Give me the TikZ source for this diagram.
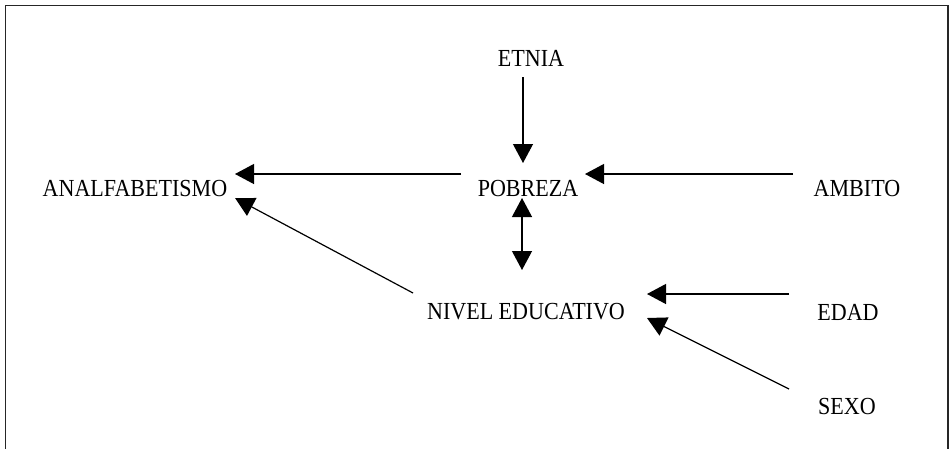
\documentclass[tikz,border=0pt]{standalone}
\usepackage{fontspec}
\setmainfont{Liberation Serif}[FakeStretch=0.9]
\usetikzlibrary{arrows.meta,calc}
\begin{document}
\begin{tikzpicture}[x=1pt,y=-1pt,
  lbl/.style={inner sep=0pt,anchor=base,font=\fontsize{24.5}{28}\selectfont},
  conn/.style={line width=1.2pt,-{Triangle[length=19pt,width=20pt]}},
  bothconn/.style={line width=1.2pt,{Triangle[length=19pt,width=20pt]}-{Triangle[length=19pt,width=20pt]}}]
\useasboundingbox (0,0) rectangle (950,448);
% frame (open at the lower edge of the page)
\draw[line width=1.8pt,black!85] (5.5,450) -- (5.5,5.5) -- (948,5.5) -- (948,450);
% variables
\node[lbl] (etnia)  at (531,66)  {ETNIA};
\node[lbl] (pob)    at (528,196) {POBREZA};
\node[lbl] (analf)  at (135,196) {ANALFABETISMO};
\node[lbl] (ambito) at (857,196) {AMBITO};
\node[lbl] (nivel)  at (526,319) {NIVEL EDUCATIVO};
\node[lbl] (edad)   at (848,320) {EDAD};
\node[lbl] (sexo)   at (847,414) {SEXO};
% relations
\draw[conn] ($(etnia.base)+(-8,11)$) -- ($(pob.base)+(-5,-33)$);
\draw[conn] ($(pob.base)+(-67,-22)$) -- ($(analf.base)+(100,-22)$);
\draw[conn] ($(ambito.base)+(-64,-22)$) -- ($(pob.base)+(57,-22)$);
\draw[bothconn] ($(pob.base)+(-6,2)$) -- ($(nivel.base)+(-4,-49)$);
\draw[conn] ($(nivel.base)+(-113,-26)$) -- ($(analf.base)+(100,2)$);
\draw[conn] ($(edad.base)+(-59,-26)$) -- ($(nivel.base)+(121,-25)$);
\draw[conn] ($(sexo.base)+(-58,-25)$) -- ($(nivel.base)+(121,-1)$);
\end{tikzpicture}
\end{document}
